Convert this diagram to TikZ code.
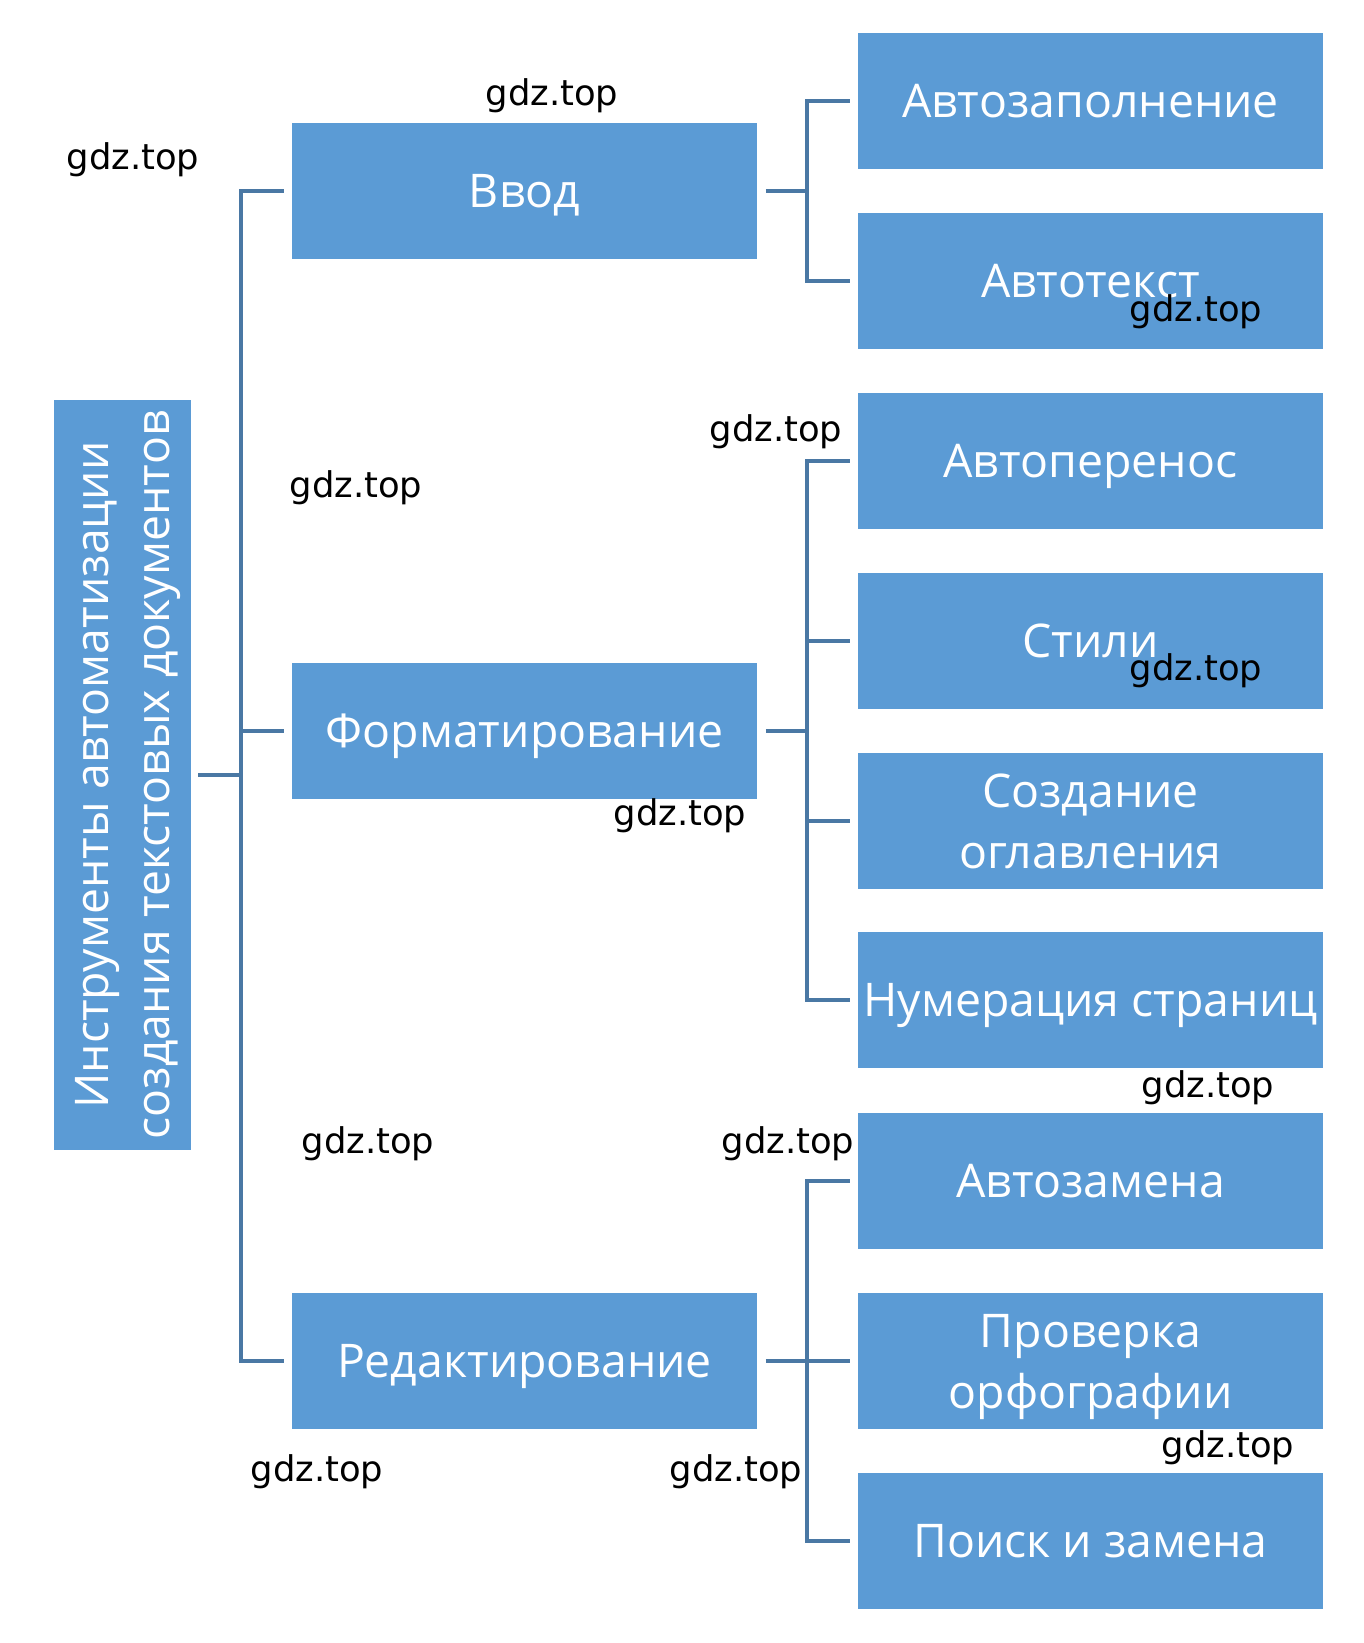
\documentclass[tikz,border=0pt]{standalone}
\usepackage{fontspec}
\setmainfont{Open Sans}
\newfontfamily\wmfont{DejaVu Sans}
\definecolor{boxblue}{HTML}{5B9BD5}
\definecolor{lineblue}{HTML}{4A78A4}
\tikzset{every picture/.style={line width=0.75pt}}
\tikzset{
  box/.style={fill=boxblue,text=white,inner sep=0pt,minimum width=232.5pt,minimum height=68pt,
    align=center,font=\fontsize{23.2}{30.5}\selectfont},
  oneline/.style={box,text depth=0pt},
  conn/.style={draw=lineblue,line width=2pt},
  wm/.style={inner sep=0pt,font=\wmfont\fontsize{17.7}{20}\selectfont}
}
\begin{document}
\begin{tikzpicture}[x=0.5pt,y=-0.5pt]
	\useasboundingbox[fill=white] (0,0) rectangle (1364,1643);
	% корень
	\node[box,rotate=90,minimum width=375pt,minimum height=68.5pt] (root) at (122,775)
		{Инструменты автоматизации\\\smash{создания текстовых документов}};
	% средний уровень
	\node[oneline] (vvod) at (524.5,190.7) {Ввод};
	\node[oneline] (form) at (524.5,730.5) {Форматирование};
	\node[oneline] (red) at (524.5,1361) {Редактирование};
	% правый уровень
	\node[oneline] (azap) at (1090.5,100.6) {Автозаполнение};
	\node[oneline] (atxt) at (1090.5,280.8) {Автотекст};
	\node[oneline] (aper) at (1090.5,461) {Автоперенос};
	\node[oneline] (stil) at (1090.5,641) {Стили};
	\node[box] (ogl) at (1090.5,821) {Создание\\оглавления};
	\node[oneline] (num) at (1090.5,1000) {Нумерация страниц};
	\node[oneline] (azam) at (1090.5,1180.7) {Автозамена};
	\node[box] (orf) at (1090.5,1361) {Проверка\\\smash{орфографии}};
	\node[oneline] (poisk) at (1090.5,1541) {Поиск и замена};
	% узлы развилок
	\coordinate (t0) at (241,775);
	\coordinate (t1) at (807,190.7);
	\coordinate (t2) at (807,730.5);
	\coordinate (t3) at (807,1361);
	% линии
	\draw[conn,shorten <=3.5pt] (root.south) -- (t0);
	\foreach \c in {vvod,form,red} \draw[conn,shorten >=3.5pt] (t0) |- (\c.west);
	\draw[conn,shorten <=4pt] (vvod.east) -- (t1);
	\foreach \c in {azap,atxt} \draw[conn,shorten >=3.5pt] (t1) |- (\c.west);
	\draw[conn,shorten <=4pt] (form.east) -- (t2);
	\foreach \c in {aper,stil,ogl,num} \draw[conn,shorten >=3.5pt] (t2) |- (\c.west);
	\draw[conn,shorten <=4pt] (red.east) -- (t3);
	\foreach \c in {azam,orf,poisk} \draw[conn,shorten >=3.5pt] (t3) |- (\c.west);
	% надписи gdz.top
	\node[wm] (w1) at (552,96) {gdz.top};
	\node[wm] (w2) at (133,160) {gdz.top};
	\node[wm] (w3) at (1196,312) {gdz.top};
	\node[wm] (w4) at (776,432) {gdz.top};
	\node[wm] (w5) at (356,488) {gdz.top};
	\node[wm] (w6) at (1196,671) {gdz.top};
	\node[wm] (w7) at (680,816) {gdz.top};
	\node[wm] (w8) at (1208,1088) {gdz.top};
	\node[wm] (w9) at (368,1144) {gdz.top};
	\node[wm] (w10) at (788,1144) {gdz.top};
	\node[wm] (w11) at (1228,1448) {gdz.top};
	\node[wm] (w12) at (317,1472) {gdz.top};
	\node[wm] (w13) at (736,1472) {gdz.top};
\end{tikzpicture}
\end{document}
